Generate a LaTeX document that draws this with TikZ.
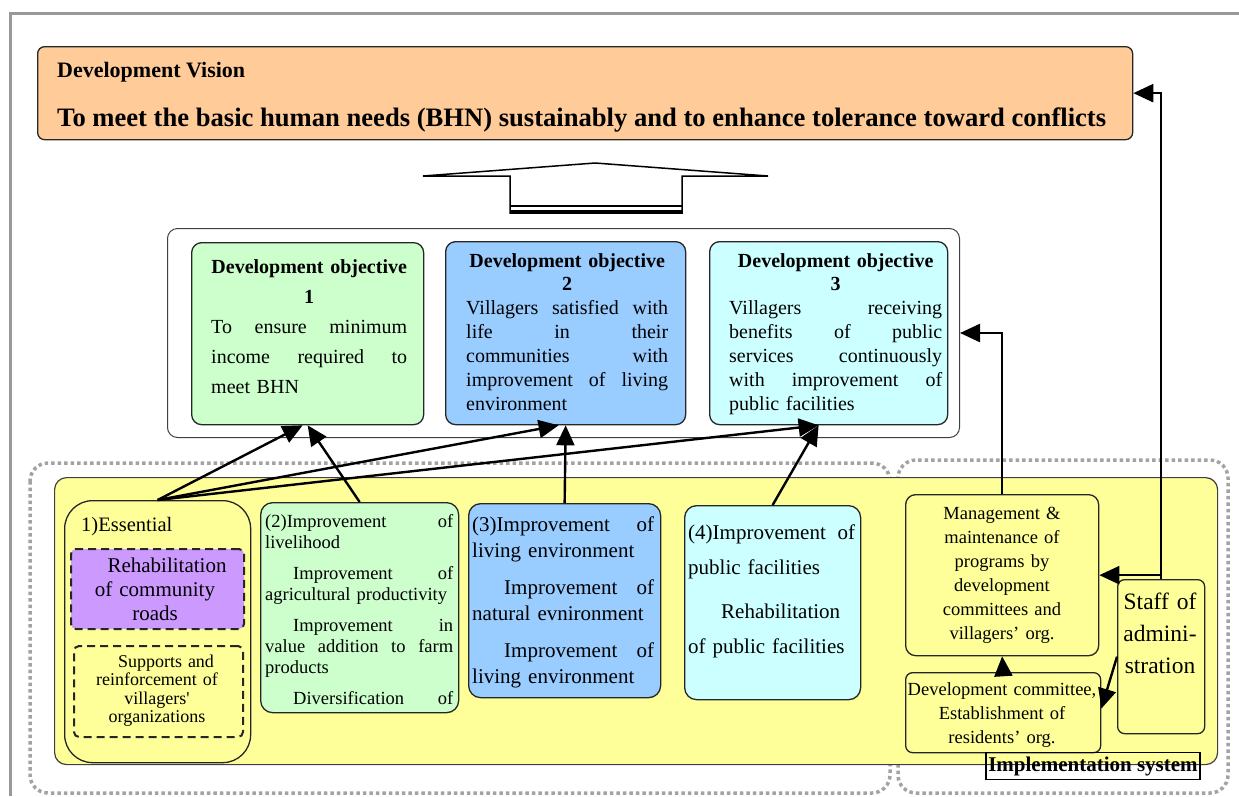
\documentclass[tikz,border=0pt]{standalone}
\usepackage{fontspec}
\setmainfont{Liberation Serif}
\usepackage{tikz}
\usetikzlibrary{arrows.meta,calc,positioning}
\definecolor{visionorange}{HTML}{FFCC99}
\definecolor{objgreen}{HTML}{CCFFCC}
\definecolor{objblue}{HTML}{99CCFF}
\definecolor{objcyan}{HTML}{CCFFFF}
\definecolor{planyellow}{HTML}{FFFF99}
\definecolor{roadpurple}{HTML}{CC99FF}
\definecolor{framegray}{HTML}{999999}
\tikzset{
  box/.style={draw=black!85, line width=1.3pt, rounded corners=10pt,
    anchor=north west, inner sep=0pt},
  dashbox/.style={box, line width=2pt, dash pattern=on 8pt off 5pt, rounded corners=5pt},
  dotframe/.style={draw=framegray!90, line width=3.5pt,
    dash pattern=on 3.5pt off 3pt, rounded corners=18pt},
  txt/.style={inner sep=0pt, align=left},
  ctxt/.style={inner sep=0pt, align=center},
  link/.style={line width=2.4pt, -{Triangle[length=20pt,width=18pt]}},
}

\begin{document}
\begin{tikzpicture}[x=1pt,y=-1pt]
  \useasboundingbox (0,0) rectangle (1239,796);
  % page frame
  \draw[framegray, line width=3pt] (10,796) -- (10,13) -- (1239,13);

  % vision
  \node[box, fill=visionorange, rounded corners=7pt, minimum width=1095pt, minimum height=93pt] (vision) at (37,46) {};
  \node[txt, anchor=base west, font=\fontsize{22}{24}\selectfont\bfseries] (visionhead) at (57,77) {Development Vision};
  \node[txt, anchor=base west, font=\fontsize{26.6}{30}\selectfont\bfseries] (visiontext) at (57,126)
    {To meet the basic human needs (BHN) sustainably and to enhance tolerance toward conflicts};

  % big hollow arrow
  \draw[line width=1.5pt, line join=miter] (510,176) -- (423,176) -- (595,163) -- (768,176) -- (682,176)
    -- (682,213) -- (510,213) -- cycle;
  \draw[line width=1.5pt] (510,206) -- (682,206);
  \draw[line width=3pt] (510,211) -- (682,211);

  % objectives
  \node[box, draw=black!75, line width=1pt, minimum width=792pt, minimum height=209pt] (objframe) at (167,228) {};
  \node[box, fill=objgreen, minimum width=232pt, minimum height=182pt] (obj1) at (191,242) {};
  \node[box, fill=objblue, minimum width=240pt, minimum height=183pt] (obj2) at (445,241) {};
  \node[box, fill=objcyan, minimum width=238pt, minimum height=183pt] (obj3) at (709,241) {};

  \node[txt, anchor=base west, text width=196pt, font=\fontsize{20}{30}\selectfont] (obj1txt) at (211,273)
    {{\centering\bfseries Development objective\\ 1\par}
     To\hfill ensure\hfill minimum\\ income\hfill required\hfill to\\ meet BHN};
  \node[txt, anchor=base west, text width=202pt, font=\fontsize{20}{24}\selectfont] (obj2txt) at (466,267)
    {{\centering\bfseries Development objective\\[-1pt] 2\par}
     Villagers\hfill satisfied\hfill with\\ life\hfill in\hfill their\\ communities\hfill with\\
     improvement\hfill of\hfill living\\ environment};
  \node[txt, anchor=base west, text width=213pt, font=\fontsize{20}{24}\selectfont] (obj3txt) at (729,267)
    {{\centering\bfseries Development objective\\[-1pt] 3\par}
     Villagers\hfill receiving\\ benefits\hfill of\hfill public\\ services\hfill continuously\\
     with\hfill improvement\hfill of\\ public facilities};

  % programs
  \draw[dotframe] (30,463) rectangle (890,793);
  \draw[dotframe] (898,460) rectangle (1228,793);
  \node[box, fill=planyellow, draw=black!75, line width=1.2pt, rounded corners=12pt,
    minimum width=1163pt, minimum height=287pt] (plan) at (54,477) {};

  \node[box, fill=planyellow, rounded corners=28pt, minimum width=186pt, minimum height=262pt] (box1) at (64,500) {};
  \node[txt, anchor=base west, font=\fontsize{20.5}{22}\selectfont] (box1txt) at (81,531) {1)Essential};
  \node[dashbox, fill=roadpurple, minimum width=173pt, minimum height=80pt] (roads) at (70,548) {};
  \node[ctxt, anchor=base, text width=172pt, font=\fontsize{21}{24}\selectfont] (roadstxt) at (155,572)
    {\hspace*{24pt}Rehabilitation\\ of community\\ roads};
  \node[dashbox, minimum width=169pt, minimum height=91pt] (orgs) at (73,645) {};
  \node[ctxt, anchor=base, text width=168pt, font=\fontsize{18}{18.5}\selectfont] (orgstxt) at (157,667)
    {\hspace*{18pt}Supports and\\ reinforcement of\\ villagers\textquotesingle\\ organizations};

  \node[box, fill=objgreen, rounded corners=12pt, minimum width=198pt, minimum height=210pt] (box2) at (260,502) {};
  \node[txt, anchor=base west, text width=188pt, font=\fontsize{18.5}{21}\selectfont] (box2txt) at (265,527)
    {(2)Improvement\hfill of\\ livelihood\\[10pt]
     \hspace*{28pt}Improvement\hfill of\\ agricultural productivity\\[10pt]
     \hspace*{28pt}Improvement\hfill in\\ value\hfill addition\hfill to\hfill farm\\ products\\[10pt]
     \hspace*{28pt}Diversification\hfill of};

  \node[box, fill=objblue, rounded corners=12pt, minimum width=192pt, minimum height=194pt] (box3) at (468,503) {};
  \node[txt, anchor=base west, text width=182pt, font=\fontsize{21}{26}\selectfont] (box3txt) at (472,531)
    {(3)Improvement\hfill of\\ living environment\\[11pt]
     \hspace*{32pt}Improvement\hfill of\\ natural evnironment\\[11pt]
     \hspace*{32pt}Improvement\hfill of\\ living environment};

  \node[box, fill=objcyan, rounded corners=12pt, minimum width=176pt, minimum height=194pt] (box4) at (684,505) {};
  \node[txt, anchor=base west, text width=167pt, font=\fontsize{21}{35}\selectfont] (box4txt) at (688,539)
    {(4)Improvement\hfill of\\ public facilities\\[9pt]
     \hspace*{33pt}Rehabilitation\\ of public facilities};

  % implementation system
  \node[box, fill=planyellow, minimum width=193pt, minimum height=161pt] (mgmt) at (905,494) {};
  \node[ctxt, anchor=base, text width=190pt, font=\fontsize{18.5}{24}\selectfont] (mgmttxt) at (1002,519)
    {Management \&\\ maintenance of\\ programs by\\ development\\ committees and\\ villagers’ org.};
  \node[box, fill=planyellow, rounded corners=7pt, minimum width=195pt, minimum height=80pt] (devc) at (905,672) {};
  \node[ctxt, anchor=base, text width=195pt, font=\fontsize{18.5}{24}\selectfont] (devctxt) at (1002,695)
    {Development committee,\\ Establishment of\\ residents’ org.};
  \node[box, fill=planyellow, rounded corners=7pt, minimum width=87pt, minimum height=154pt] (staff) at (1117,579) {};
  \node[ctxt, anchor=base, text width=87pt, font=\fontsize{23.5}{32}\selectfont] (stafftxt) at (1160,609)
    {Staff of\\ admini-\\ stration};
  \node[draw, line width=1.5pt, inner sep=0pt, minimum width=214pt, minimum height=27pt,
    font=\fontsize{21}{22}\selectfont\bfseries] (impl) at (1093,766) {Implementation system};

  % links
  \draw[link] (box1.north) -- ([xshift=-5pt]obj1.south);
  \draw[link] (box1.north) -- ([xshift=-7pt]obj2.south);
  \draw[link] (box1.north) -- ([xshift=-10pt]obj3.south);
  \draw[link] (box2.north) -- (obj1.south);
  \draw[link] (box3.north) -- (obj2.south);
  \draw[link] (box4.north) -- ([xshift=-10pt]obj3.south);
  \draw[link] (mgmt.north) |- (objframe.east);
  \draw[link] (staff.north) |- (vision.east);
  \draw[link] (staff.north |- mgmt.east) -- (mgmt.east);
  \draw[link] (staff.west) -- ([yshift=4pt]devc.east);
  \draw[link] (devc.north) -- (mgmt.south);
\end{tikzpicture}
\end{document}
